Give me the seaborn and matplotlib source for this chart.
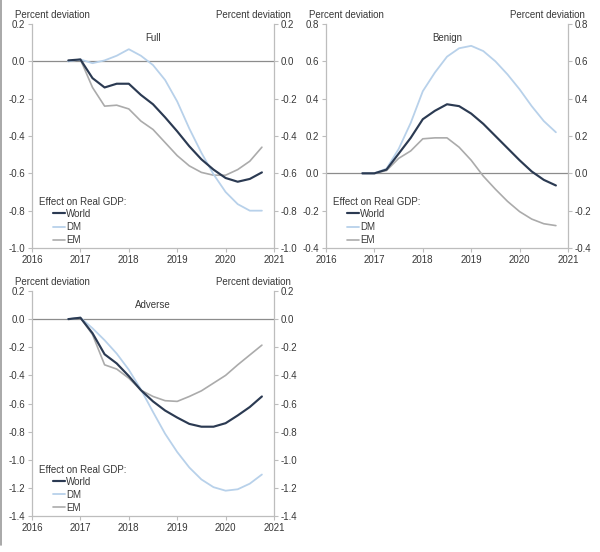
import numpy as np
import pandas as pd
import matplotlib
matplotlib.use("Agg")
import matplotlib.pyplot as plt
from matplotlib.lines import Line2D
import seaborn as sns

# ---- data (quarterly, 2016Q4 .. 2020Q4) ----
quarters = [2016.75, 2017.0, 2017.25, 2017.5, 2017.75, 2018.0, 2018.25, 2018.5,
            2018.75, 2019.0, 2019.25, 2019.5, 2019.75, 2020.0, 2020.25, 2020.5, 2020.75]
series_names = ["World", "DM", "EM"]

full_world = [0.005, 0.01, -0.09, -0.14, -0.12, -0.12, -0.18, -0.23, -0.30, -0.375,
              -0.455, -0.525, -0.58, -0.625, -0.645, -0.63, -0.595]
full_dm = [0.0, 0.01, -0.01, 0.005, 0.03, 0.065, 0.03, -0.02, -0.10, -0.215,
           -0.36, -0.49, -0.605, -0.70, -0.765, -0.80, -0.80]
full_em = [0.0, 0.01, -0.14, -0.24, -0.235, -0.255, -0.32, -0.365, -0.435, -0.505,
           -0.56, -0.595, -0.61, -0.61, -0.58, -0.535, -0.46]

benign_world = [0.0, 0.0, 0.02, 0.105, 0.19, 0.29, 0.335, 0.37, 0.36, 0.32,
                0.265, 0.20, 0.135, 0.07, 0.01, -0.035, -0.065]
benign_dm = [0.0, 0.0, 0.025, 0.13, 0.27, 0.44, 0.54, 0.625, 0.67, 0.683,
             0.655, 0.60, 0.53, 0.45, 0.36, 0.28, 0.22]
benign_em = [0.0, 0.0, 0.015, 0.08, 0.12, 0.185, 0.19, 0.19, 0.14, 0.07,
             -0.015, -0.085, -0.15, -0.205, -0.245, -0.27, -0.28]

adverse_world = [0.0, 0.01, -0.10, -0.25, -0.315, -0.405, -0.505, -0.585, -0.65, -0.70,
                 -0.745, -0.765, -0.765, -0.74, -0.685, -0.625, -0.55]
adverse_dm = [0.0, 0.01, -0.065, -0.15, -0.245, -0.36, -0.50, -0.66, -0.815, -0.945,
              -1.055, -1.14, -1.195, -1.22, -1.21, -1.17, -1.105]
adverse_em = [0.0, 0.01, -0.11, -0.325, -0.355, -0.42, -0.505, -0.55, -0.58, -0.585,
              -0.55, -0.51, -0.455, -0.40, -0.325, -0.255, -0.185]

panel_titles = ["Full", "Benign", "Adverse"]
x_ticks = [2016, 2017, 2018, 2019, 2020, 2021]
full_yticks = [0.2, 0.0, -0.2, -0.4, -0.6, -0.8, -1.0]
benign_yticks = [0.8, 0.6, 0.4, 0.2, 0.0, -0.2, -0.4]
adverse_yticks = [0.2, 0.0, -0.2, -0.4, -0.6, -0.8, -1.0, -1.2, -1.4]
axis_label = "Percent deviation"
legend_title = "Effect on Real GDP:"

# ---- style ----
sns.set_theme(style="white")
plt.rcParams["font.family"] = ["Liberation Sans", "DejaVu Sans"]

palette = {"World": "#2b3a52", "DM": "#b8d1ea", "EM": "#ababab"}
widths = {"World": 1.55, "DM": 1.3, "EM": 1.2}
spine_col = "#bdbdbd"
text_col = "#383838"
fs = 7

fig = plt.figure(figsize=(6.0, 5.52), dpi=100)
W, H = 600.0, 552.0


def make_ax(l, t, r, b):
    return fig.add_axes([l / W, 1 - b / H, (r - l) / W, (b - t) / H])


ax1 = make_ax(32, 24, 274, 248)
ax2 = make_ax(326, 24, 568, 248)
ax3 = make_ax(32, 291, 274, 516)

panels = [
    (ax1, panel_titles[0], [full_world, full_dm, full_em], full_yticks),
    (ax2, panel_titles[1], [benign_world, benign_dm, benign_em], benign_yticks),
    (ax3, panel_titles[2], [adverse_world, adverse_dm, adverse_em], adverse_yticks),
]

for ax, title, vals, yt in panels:
    df = pd.DataFrame({
        "x": quarters * 3,
        "y": vals[0] + vals[1] + vals[2],
        "series": sum([[s] * len(quarters) for s in series_names], []),
    })
    ax.axhline(0, color="#8c8c8c", lw=0.9, zorder=1)
    for s in ["EM", "DM", "World"]:
        sub = df[df["series"] == s]
        sns.lineplot(data=sub, x="x", y="y", color=palette[s], lw=widths[s],
                     ax=ax, legend=False, zorder=3 if s == "World" else 2)
    ax.set_xlim(2016, 2021)
    ax.set_ylim(min(yt), max(yt))
    ax.set_xticks(x_ticks)
    ax.set_xticklabels([str(v) for v in x_ticks])
    ax.set_yticks(yt)
    ax.set_yticklabels([f"{v:.1f}" for v in yt])
    ax.set_xlabel("")
    ax.set_ylabel("")
    for side in ["left", "right", "bottom"]:
        ax.spines[side].set_visible(True)
        ax.spines[side].set_color(spine_col)
        ax.spines[side].set_linewidth(0.9)
    ax.spines["top"].set_visible(False)
    ax.tick_params(axis="y", which="both", left=True, right=True, labelleft=True,
                   labelright=True, direction="out", length=3, width=0.8,
                   color=spine_col, labelsize=fs, labelcolor=text_col, pad=2)
    ax.tick_params(axis="x", bottom=True, direction="out", length=3, width=0.8,
                   color=spine_col, labelsize=fs, labelcolor=text_col, pad=2)
    ax.text(0.5, 0.96, title, transform=ax.transAxes, ha="center", va="top",
            fontsize=fs, color=text_col)
    ax.text(-0.07, 1.02, axis_label, transform=ax.transAxes, ha="left",
            va="bottom", fontsize=fs, color=text_col)
    ax.text(1.07, 1.02, axis_label, transform=ax.transAxes, ha="right",
            va="bottom", fontsize=fs, color=text_col)
    # legend
    ax.text(0.029, 0.205, legend_title, transform=ax.transAxes, ha="left",
            va="center", fontsize=fs, color=text_col)
    handles = [Line2D([0], [0], color=palette[s], lw=widths[s]) for s in series_names]
    leg = ax.legend(handles, series_names, loc="upper left",
                    bbox_to_anchor=(0.085, 0.175), frameon=False, fontsize=fs,
                    handlelength=1.3, handletextpad=0.1, labelspacing=0.32,
                    borderpad=0.0, borderaxespad=0.0)
    for t in leg.get_texts():
        t.set_color(text_col)

# thin grey border at left edge of the image
fig.add_artist(Line2D([1.0 / W, 1.0 / W], [1 - 545 / H, 1.0], color="#9a9a9a",
                      lw=1.2, transform=fig.transFigure))

fig.savefig("out.png", dpi=100, facecolor="white")
